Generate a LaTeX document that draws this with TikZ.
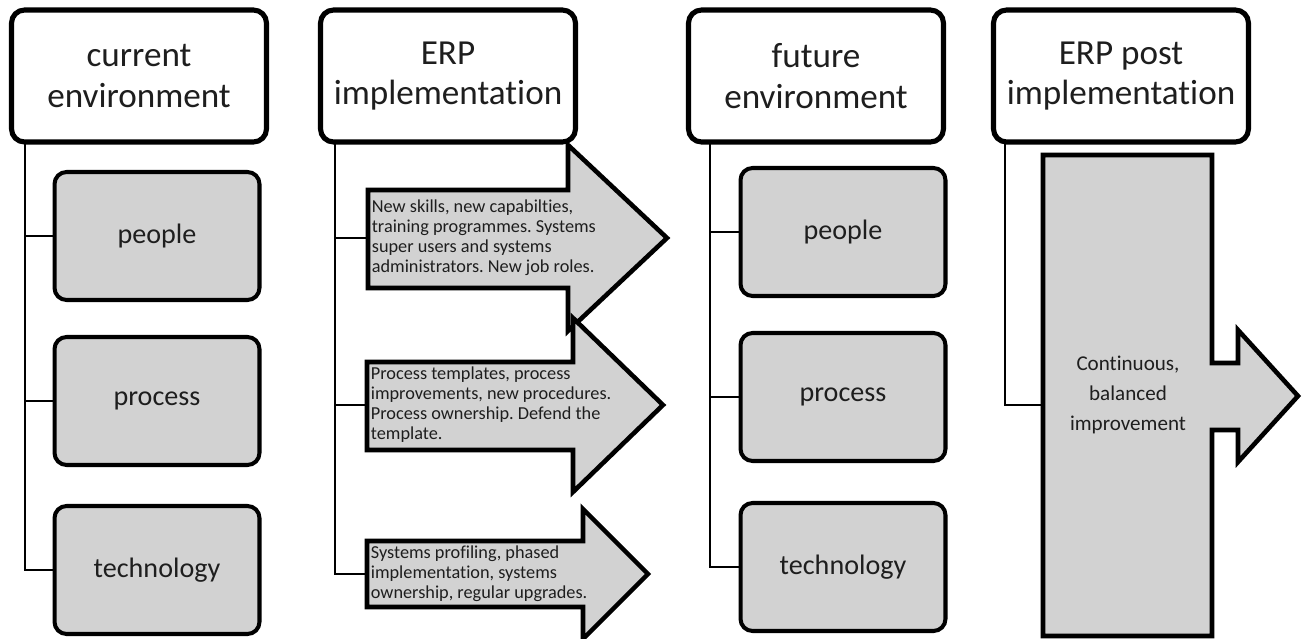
\documentclass[tikz,border=0pt]{standalone}
\usepackage{fontspec}
\setmainfont[Ligatures=NoCommon]{Carlito}
\frenchspacing
\definecolor{boxgray}{RGB}{210,210,210}
\definecolor{ink}{RGB}{30,30,30}

\begin{document}
\begin{tikzpicture}[x=0.02cm,y=-0.02cm,
    head/.style = {draw, line width=2.9pt, rounded corners=0.26cm, fill=white, minimum width=5.1cm, minimum height=2.64cm, align=center, font=\fontsize{20}{23}\selectfont, text=ink},
    part/.style = {draw, line width=2.3pt, rounded corners=0.24cm, fill=boxgray, minimum width=4.1cm, minimum height=2.56cm, font=\fontsize{16}{19}\selectfont, text=ink},
    shaft/.style = {anchor=west, align=left, inner xsep=2pt, font=\fontsize{10.4}{11.4}\selectfont, text=ink},
    link/.style = {line width=1.5pt},
    flow/.style = {draw, line width=2.6pt, fill=boxgray, line join=miter}]

        \useasboundingbox (0,0) rectangle (1302,639);

        % headers
        \node[head](h1) at (139,76){current\\environment};
        \node[head](h2) at (448,76){ERP\\implementation};
        \node[head](h3) at (816,76){future\\environment};
        \node[head](h4) at (1121,76){ERP post\\implementation};

        % current environment
        \node[part](p1) at (157,236){people};
        \node[part](p2) at (157,401){process};
        \node[part](p3) at (157,570){technology};

        % future environment
        \node[part](f1) at (843,232){people};
        \node[part](f2) at (843,397){process};
        \node[part](f3) at (843,567){technology};

        % ERP implementation arrows
        \draw[flow] (368,190) -- (568,190) -- (568,145) -- (667,238) -- (568,331) -- (568,288) -- (368,288) -- cycle;
        \node[shaft](a1) at (368,238){New skills, new capabilties,\\training programmes. Systems\\super users and systems\\administrators. New job roles.};
        \draw[flow] (367,362) -- (573,362) -- (573,318) -- (663,405) -- (573,492) -- (573,450) -- (367,450) -- cycle;
        \node[shaft](a2) at (367,405){Process templates, process\\improvements, new procedures.\\Process ownership. Defend the\\template.};
        \draw[flow] (367,541) -- (583,541) -- (583,509) -- (648,574) -- (583,639) -- (583,607) -- (367,607) -- cycle;
        \node[shaft](a3) at (367,574){Systems profiling, phased\\implementation, systems\\ownership, regular upgrades.};

        % ERP post implementation
        \draw[flow] (1043,155) -- (1212,155) -- (1212,363) -- (1238,363) -- (1238,330) -- (1298,396) -- (1238,462) -- (1238,430) -- (1212,430) -- (1212,636) -- (1043,636) -- cycle;
        \node[align=center, font=\fontsize{12}{17}\selectfont, text=ink](c1) at (1128,395){Continuous,\\balanced\\improvement};

        \coordinate (t1) at (25,142);
        \coordinate (t2) at (335,142);
        \coordinate (t3) at (710,142);
        \coordinate (t4) at (1005,142);
        \coordinate (g1) at (1043,405);

        \path[link]
        (t1) edge[to path={|- (\tikztotarget)}] (p1.west)
        (t1) edge[to path={|- (\tikztotarget)}] (p2.west)
        (t1) edge[to path={|- (\tikztotarget)}] (p3.west)
        (t2) edge[to path={|- (\tikztotarget)}] (a1.west)
        (t2) edge[to path={|- (\tikztotarget)}] (a2.west)
        (t2) edge[to path={|- (\tikztotarget)}] (a3.west)
        (t3) edge[to path={|- (\tikztotarget)}] (f1.west)
        (t3) edge[to path={|- (\tikztotarget)}] (f2.west)
        (t3) edge[to path={|- (\tikztotarget)}] (f3.west)
        (t4) edge[to path={|- (\tikztotarget)}] (g1)
        ;
      \end{tikzpicture}
\end{document}
